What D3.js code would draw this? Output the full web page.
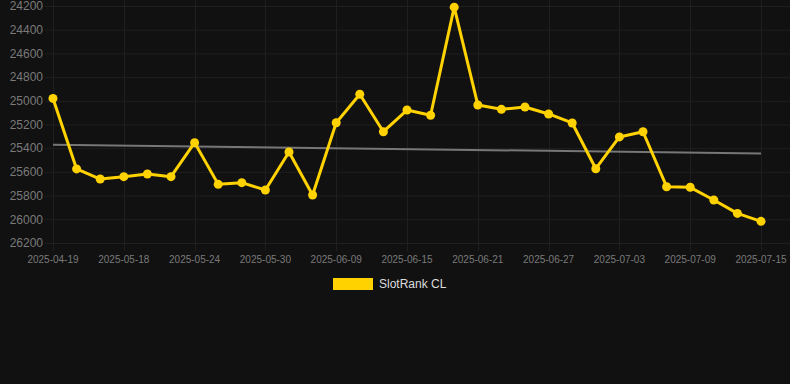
<!DOCTYPE html>
<html>
<head>
<meta charset="utf-8">
<script src="https://cdn.jsdelivr.net/npm/d3@7"></script>
<style>
  html, body { margin: 0; padding: 0; background: #111111; }
  svg { display: block; font-family: "Liberation Sans", Arial, sans-serif; }
</style>
</head>
<body>
<svg id="chart" width="790" height="384"></svg>
<script>
// dates of each sample (category axis, every 3rd is labelled)
const dates = [
  "2025-04-19", "2025-05-14", "2025-05-16", "2025-05-18", "2025-05-20", "2025-05-22",
  "2025-05-24", "2025-05-26", "2025-05-28", "2025-05-30", "2025-06-05", "2025-06-07",
  "2025-06-09", "2025-06-11", "2025-06-13", "2025-06-15", "2025-06-17", "2025-06-19",
  "2025-06-21", "2025-06-23", "2025-06-25", "2025-06-27", "2025-06-29", "2025-07-01",
  "2025-07-03", "2025-07-05", "2025-07-07", "2025-07-09", "2025-07-11", "2025-07-13",
  "2025-07-15"
]
const ranks = [
  24980, 25575, 25660, 25640, 25618, 25640,
  25353, 25705, 25691, 25753, 25432, 25795,
  25185, 24945, 25261, 25078, 25122, 24210,
  25035, 25072, 25052, 25111, 25187, 25573,
  25305, 25261, 25725, 25730, 25837, 25950,
  26017
]
// trend line, read at first and last date
const trendDates = ["2025-04-19", "2025-07-15"]
const trendValues = [25370, 25445]
const yTicks = [24200, 24400, 24600, 24800, 25000, 25200, 25400, 25600, 25800, 26000, 26200]
const seriesName = "SlotRank CL"

const colors = {
  line: "#ffd200",
  trend: "#777777",
  grid: "#1f1f1f",
  tick: "#7a7a7a",
  legendText: "#dddddd"
}

const margins = {left: 53, right: 29, top: 6, bottom: 141}
const width = 790, height = 384

const svg = d3.select("#chart")

const x = d3.scalePoint()
  .domain(dates)
  .range([margins.left, width - margins.right])

const y = d3.scaleLinear()
  .domain([24200, 26200])
  .range([margins.top, height - margins.bottom])

// horizontal grid + y labels
const yAxis = svg.append("g").attr("class", "y-axis")
yAxis.selectAll("line")
  .data(yTicks)
  .join("line")
  .attr("x1", 45)
  .attr("x2", width)
  .attr("y1", d => y(d) + 0.5)
  .attr("y2", d => y(d) + 0.5)
  .attr("stroke", colors.grid)
yAxis.selectAll("text")
  .data(yTicks)
  .join("text")
  .attr("x", 43)
  .attr("y", d => y(d))
  .attr("dy", "0.35em")
  .attr("text-anchor", "end")
  .attr("fill", colors.tick)
  .attr("font-size", 12)
  .text(d => d)

// vertical grid + x labels (every 3rd date)
const xTicks = dates.filter((d, i) => i % 3 === 0)
const xAxis = svg.append("g").attr("class", "x-axis")
xAxis.selectAll("line")
  .data(xTicks)
  .join("line")
  .attr("x1", d => Math.round(x(d)) + 0.5)
  .attr("x2", d => Math.round(x(d)) + 0.5)
  .attr("y1", 0)
  .attr("y2", y(26200) + 8)
  .attr("stroke", colors.grid)
xAxis.selectAll("text")
  .data(xTicks)
  .join("text")
  .attr("x", d => x(d))
  .attr("y", y(26200) + 20)
  .attr("text-anchor", "middle")
  .attr("fill", colors.tick)
  .attr("font-size", 10)
  .text(d => d)

// trend line
svg.append("line")
  .attr("x1", x(trendDates[0]))
  .attr("x2", x(trendDates[1]))
  .attr("y1", y(trendValues[0]))
  .attr("y2", y(trendValues[1]))
  .attr("stroke", colors.trend)
  .attr("stroke-width", 2)

// series
const data = dates.map((d, i) => ({date: d, value: ranks[i]}))
svg.append("path")
  .datum(data)
  .attr("fill", "none")
  .attr("stroke", colors.line)
  .attr("stroke-width", 3)
  .attr("stroke-linejoin", "round")
  .attr("d", d3.line().x(d => x(d.date)).y(d => y(d.value)))

svg.append("g")
  .selectAll("circle")
  .data(data)
  .join("circle")
  .attr("cx", d => x(d.date))
  .attr("cy", d => y(d.value))
  .attr("r", 4.5)
  .attr("fill", colors.line)

// legend
const legend = svg.append("g").attr("transform", "translate(333, 278)")
legend.append("rect")
  .attr("width", 40)
  .attr("height", 12)
  .attr("fill", colors.line)
legend.append("text")
  .attr("x", 46)
  .attr("y", 6)
  .attr("dy", "0.35em")
  .attr("fill", colors.legendText)
  .attr("font-size", 12)
  .text(seriesName)
</script>
</body>
</html>
